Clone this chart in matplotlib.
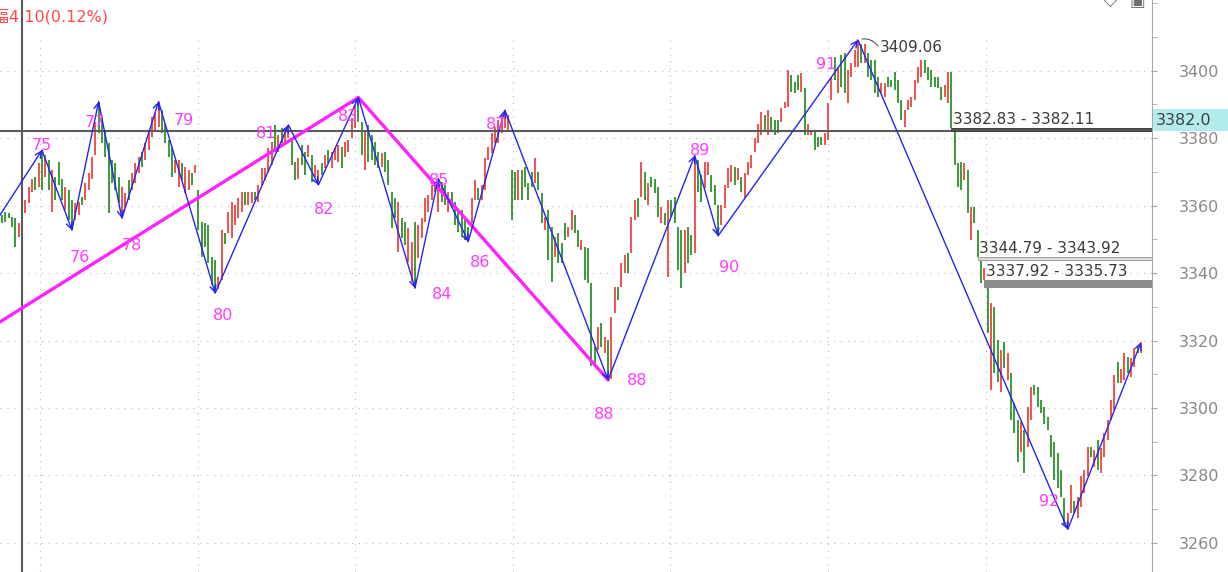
import matplotlib.pyplot as plt
from matplotlib.patches import Rectangle
from matplotlib.ticker import MultipleLocator, FixedLocator
from matplotlib.transforms import blended_transform_factory

plt.rcParams['font.family'] = ['DejaVu Sans', 'Noto Sans CJK TC']

# bar high / low, left to right
hi = [3357.2, 3358.2, 3357.9, 3356.7, 3356.2, 3354.7, 3358.2, 3361.6, 3365.6, 3368.0,
      3368.5, 3372.5, 3376.4, 3374.9, 3373.5, 3370.5, 3368.5, 3373.0, 3368.0, 3365.6,
      3364.6, 3361.6, 3360.6, 3361.1, 3362.6, 3366.6, 3369.5, 3374.5, 3384.8, 3390.8,
      3386.3, 3382.4, 3378.4, 3373.5, 3372.5, 3368.5, 3365.6, 3363.6, 3367.5, 3369.5,
      3372.5, 3374.5, 3375.9, 3378.4, 3382.4, 3386.3, 3387.3, 3390.8, 3388.3, 3384.3,
      3379.4, 3377.4, 3373.5, 3373.5, 3372.5, 3371.5, 3370.5, 3369.5, 3372.0, 3364.6,
      3355.2, 3354.7, 3354.2, 3344.8, 3344.0, 3338.8, 3352.7, 3352.0, 3358.0, 3361.1,
      3360.1, 3362.1, 3364.1, 3364.1, 3364.1, 3364.1, 3364.1, 3366.1, 3371.0, 3371.0,
      3376.9, 3378.9, 3383.8, 3380.9, 3382.9, 3382.9, 3383.9, 3379.4, 3373.0, 3374.0,
      3377.9, 3375.9, 3377.9, 3374.9, 3372.0, 3370.5, 3372.5, 3374.9, 3376.4, 3376.0,
      3376.9, 3377.9, 3377.4, 3378.9, 3379.4, 3385.8, 3389.8, 3392.0, 3384.8, 3381.9,
      3383.8, 3380.9, 3378.9, 3376.0, 3375.5, 3376.0, 3373.5, 3364.1, 3362.1, 3361.1,
      3356.2, 3355.2, 3353.2, 3349.3, 3355.2, 3354.2, 3356.2, 3362.1, 3363.1, 3366.1,
      3367.1, 3368.0, 3367.1, 3366.1, 3364.1, 3364.1, 3361.1, 3358.2, 3358.7, 3355.7,
      3353.7, 3362.1, 3367.6, 3365.1, 3366.1, 3374.0, 3377.4, 3381.4, 3383.4, 3385.3,
      3386.8, 3388.3, 3386.8, 3370.5, 3370.0, 3370.5, 3370.5, 3371.5, 3366.6, 3370.0,
      3374.0, 3370.0, 3363.6, 3356.7, 3358.7, 3353.7, 3350.8, 3351.8, 3348.8, 3354.7,
      3353.7, 3358.7, 3357.2, 3352.7, 3349.8, 3347.8, 3347.3, 3336.9, 3318.2, 3324.1,
      3325.1, 3321.1, 3320.1, 3327.1, 3336.0, 3336.0, 3342.9, 3345.3, 3345.8, 3356.7,
      3361.6, 3362.1, 3373.0, 3370.0, 3366.6, 3368.5, 3368.0, 3365.6, 3359.7, 3357.7,
      3361.6, 3361.6, 3362.6, 3353.7, 3352.7, 3352.7, 3353.7, 3351.3, 3374.8, 3373.5,
      3369.0, 3373.0, 3373.0, 3369.0, 3366.1, 3360.1, 3360.1, 3366.1, 3371.0, 3372.0,
      3371.5, 3371.0, 3368.5, 3369.5, 3373.0, 3375.0, 3379.9, 3384.3, 3387.8, 3386.8,
      3388.3, 3386.3, 3385.3, 3385.3, 3388.8, 3390.8, 3400.1, 3398.7, 3396.7, 3398.7,
      3399.2, 3394.7, 3384.3, 3382.4, 3381.9, 3380.4, 3380.4, 3381.4, 3390.3, 3398.2,
      3404.1, 3401.1, 3404.6, 3405.1, 3400.2, 3402.1, 3406.1, 3409.06, 3408.0, 3408.0,
      3405.1, 3403.1, 3403.1, 3398.2, 3396.2, 3396.2, 3398.2, 3397.2, 3399.7, 3397.2,
      3391.3, 3388.3, 3391.3, 3392.2, 3397.2, 3401.1, 3403.1, 3403.1, 3401.1, 3400.2,
      3398.2, 3398.2, 3395.2, 3395.7, 3399.7, 3399.7, 3382.11, 3372.5, 3373.0, 3372.5,
      3370.5, 3359.7, 3359.7, 3352.7, 3343.92, 3341.5, 3335.73, 3331.0, 3330.0, 3320.1,
      3317.2, 3319.7, 3316.2, 3310.3, 3301.4, 3296.4, 3295.9, 3293.5, 3300.4, 3306.3,
      3306.8, 3306.3, 3302.4, 3300.4, 3297.4, 3292.0, 3290.0, 3286.6, 3281.6, 3273.2,
      3268.8, 3277.2, 3272.3, 3273.7, 3279.7, 3281.6, 3288.5, 3288.5, 3287.5, 3290.5,
      3288.0, 3292.5, 3296.4, 3302.4, 3309.8, 3313.7, 3311.7, 3316.2, 3315.2, 3314.7,
      3317.7, 3318.2, 3319.5]
lo = [3354.7, 3355.2, 3356.2, 3353.7, 3347.8, 3350.7, 3353.2, 3357.7, 3360.6, 3364.1,
      3364.6, 3365.6, 3364.6, 3368.5, 3364.6, 3358.2, 3361.6, 3366.1, 3361.6, 3358.7,
      3355.7, 3352.7, 3355.7, 3357.2, 3360.1, 3361.6, 3364.6, 3368.0, 3375.0, 3381.4,
      3378.4, 3374.5, 3357.7, 3366.6, 3364.6, 3360.6, 3356.2, 3359.2, 3361.6, 3364.6,
      3366.6, 3369.5, 3371.5, 3373.5, 3376.4, 3380.4, 3382.4, 3383.4, 3381.4, 3378.4,
      3374.5, 3368.5, 3369.5, 3365.6, 3367.5, 3363.6, 3364.5, 3366.0, 3369.5, 3352.7,
      3344.8, 3347.8, 3342.9, 3336.5, 3334.0, 3335.3, 3337.9, 3348.6, 3352.0, 3350.3,
      3354.2, 3356.2, 3358.2, 3360.1, 3360.1, 3360.6, 3361.6, 3361.1, 3366.1, 3367.6,
      3370.0, 3372.0, 3375.9, 3375.9, 3378.4, 3378.9, 3379.9, 3372.0, 3367.6, 3368.0,
      3372.0, 3369.0, 3374.5, 3367.1, 3368.5, 3366.1, 3369.0, 3371.0, 3372.5, 3371.0,
      3373.5, 3373.0, 3371.0, 3374.5, 3375.9, 3379.9, 3382.9, 3384.8, 3375.0, 3370.5,
      3373.0, 3373.5, 3372.0, 3371.0, 3371.5, 3370.0, 3366.1, 3353.2, 3356.2, 3346.3,
      3350.3, 3348.3, 3343.4, 3337.4, 3335.5, 3344.3, 3350.3, 3355.2, 3358.2, 3361.6,
      3364.1, 3358.2, 3361.1, 3360.1, 3358.2, 3359.2, 3354.2, 3352.2, 3350.8, 3349.8,
      3349.3, 3354.7, 3361.6, 3361.6, 3361.6, 3364.6, 3373.5, 3375.5, 3378.4, 3378.4,
      3381.4, 3382.9, 3381.9, 3355.7, 3361.6, 3361.6, 3361.6, 3365.6, 3361.6, 3365.6,
      3366.6, 3364.6, 3354.7, 3352.7, 3343.8, 3337.4, 3344.8, 3342.9, 3342.9, 3349.8,
      3350.8, 3352.7, 3351.8, 3347.8, 3346.8, 3337.9, 3336.9, 3312.3, 3312.3, 3317.2,
      3318.2, 3316.2, 3308.3, 3308.5, 3328.1, 3332.0, 3336.0, 3339.9, 3339.9, 3345.8,
      3355.7, 3356.7, 3362.6, 3361.6, 3360.1, 3365.6, 3363.6, 3356.7, 3354.7, 3354.2,
      3338.9, 3356.7, 3354.7, 3340.9, 3335.5, 3339.9, 3343.0, 3345.3, 3346.0, 3364.1,
      3361.1, 3365.1, 3369.0, 3364.1, 3360.1, 3351.0, 3354.2, 3359.2, 3365.1, 3367.1,
      3366.1, 3367.5, 3364.1, 3362.1, 3369.0, 3371.0, 3375.9, 3378.4, 3380.9, 3381.9,
      3380.9, 3381.9, 3380.9, 3381.4, 3384.8, 3388.8, 3389.3, 3393.7, 3393.2, 3394.2,
      3393.7, 3380.9, 3380.9, 3380.9, 3376.4, 3377.4, 3377.9, 3377.9, 3379.4, 3391.3,
      3397.2, 3393.2, 3395.2, 3393.2, 3390.3, 3398.2, 3401.1, 3401.1, 3402.1, 3402.1,
      3398.2, 3397.2, 3393.2, 3392.3, 3393.2, 3392.3, 3395.2, 3395.2, 3394.2, 3390.3,
      3385.3, 3383.4, 3388.3, 3389.3, 3391.3, 3396.2, 3398.2, 3399.2, 3397.2, 3395.2,
      3395.2, 3394.7, 3391.3, 3392.2, 3390.3, 3382.83, 3372.0, 3365.6, 3364.6, 3367.5,
      3357.7, 3349.8, 3354.7, 3344.79, 3337.0, 3337.92, 3322.1, 3305.3, 3310.3, 3307.8,
      3304.8, 3311.8, 3308.3, 3296.4, 3292.5, 3284.1, 3287.0, 3280.6, 3288.5, 3296.4,
      3303.8, 3300.4, 3298.4, 3295.4, 3293.5, 3285.5, 3278.7, 3276.2, 3273.7, 3265.3,
      3264.0, 3268.8, 3268.8, 3267.3, 3270.8, 3274.7, 3279.7, 3285.6, 3282.6, 3281.6,
      3280.6, 3285.6, 3290.5, 3296.4, 3299.4, 3307.3, 3307.3, 3308.3, 3310.3, 3309.3,
      3312.2, 3316.2, 3316.2]
# r = up bar, g = down bar
col = ("gggggrrrrr" "grgrgrgggr" "ggrrgrrrrg" "ggggggrrgr" "rrgrrrrrgg"
       "ggrrgrrgrg" "gggggrrgrr" "rrrgrrgrrr" "rrgrgrrggr" "ggrgrrgrgr"
       "rrgrrrrggr" "ggggrggggr" "ggrrgrrrrr" "rrggrggggg" "grrgrrrrrr"
       "rrrggrgggg" "rggrggrggg" "rrggrggggr" "grgrrgrrgr" "rgrgrgggrg"
       "rggggrggrg" "grrgggrrrr" "grgrrrrrrg" "rgggrrrggg" "rgrrgggrrr"
       "grggrrrrgr" "ggggrrgggg" "grrrrrrggg" "gggrrggggr" "grgggrgrgg"
       "rgrgggrgrr" "gggggggggg" "rrgrrrrgrg" "rrrrrgrrgr" "rgr")

# zigzag turning points (bar index, price); the first one sits just off the left edge
zz_idx = [-4, 12, 21, 29, 36, 47, 64, 86, 95, 107, 124, 131, 140, 151, 182, 208, 215, 257, 320, 342]
zz_val = [3352.0, 3376.4, 3352.7, 3390.8, 3356.2, 3390.8, 3334.0, 3383.9, 3366.1, 3392.0,
          3335.5, 3368.0, 3349.3, 3388.3, 3308.3, 3374.8, 3351.0, 3409.06, 3264.0, 3319.5]
zz_lab = ['75', '76', '77', '78', '79', '80', '81', '82', '83',
          '84', '85', '86', '87', '88', '89', '90', '91', '92']
lab_off = [(0, 5), (8, -27), (-4, -21), (10, -27), (25, -19), (8, -22), (-22, -9), (6, -25),
           (-10, -19), (27, -6), (1, -2), (12, -21), (-9, -14), (29, -1), (5, 5), (11, -32),
           (-32, -25), (-19, 28)]

# magenta trend line
tr_idx = [-10, 107, 182]
tr_val = [3319.7, 3392.0, 3308.3]

# open gaps: starting bar, top, bottom
gap_idx = [285, 293, 295]
gap_top = [3382.83, 3344.79, 3337.92]
gap_bot = [3382.11, 3343.92, 3335.73]

cross_idx = 6
cross_val = 3382.0
head_txt = '漲幅4.10(0.12%)'
grid_idx = [11.4, 58.9, 106, 153.5, 200.6, 248, 295.5]
price_ticks = [3260, 3280, 3300, 3320, 3340, 3360, 3380, 3400]

assert len(hi) == len(lo) == len(col)

W, H = 1228, 572
fig = plt.figure(figsize=(W / 100, H / 100), dpi=100)
ax = fig.add_axes([0, 0, 1152 / W, 1])
x0, x1 = -0.6, 345.3
y0, y1 = 3251.4, 3420.9
ax.set_xlim(x0, x1)
ax.set_ylim(y0, y1)

# grid
ax.vlines(grid_idx, y0, 3409.6, colors='#c4c4c4', linestyles=(0, (1.2, 5)), lw=0.8, zorder=0)
for v in price_ticks:
    ax.axhline(v, color='#c4c4c4', ls=(0, (1.2, 5)), lw=0.8, zorder=0)

# bars
xs = list(range(len(hi)))
colors = ['#f0524c' if c == 'r' else '#3a9a3a' for c in col]
ax.vlines(xs, lo, hi, colors=colors, lw=1.4, zorder=2)

# crosshair
ax.axhline(cross_val, color='#5a5a5a', lw=1.5, zorder=2.5)
ax.axvline(cross_idx, color='#5a5a5a', lw=1.5, zorder=2.5)

# gap zones
zone_face = ['#505050', '#dcdcdc', '#8c8c8c']
zone_edge = ['#404040', '#a0a0a0', '#8c8c8c']
for k in range(len(gap_idx)):
    ax.add_patch(Rectangle((gap_idx[k], gap_bot[k]), x1 - gap_idx[k], gap_top[k] - gap_bot[k],
                           facecolor=zone_face[k], edgecolor=zone_edge[k], lw=0.7, zorder=2.6))
    ax.annotate(f'{gap_top[k]:.2f} - {gap_bot[k]:.2f}', xy=(gap_idx[k], gap_top[k]),
                xytext=(1.5, 1), textcoords='offset pixels', ha='left', va='bottom',
                color='#3a3a3a', fontsize=11, zorder=6)

# trend line
ax.plot(tr_idx, tr_val, color='#ff22ff', lw=2.4, zorder=3, solid_capstyle='round')

# zigzag with arrow heads
for k in range(1, len(zz_idx)):
    ax.annotate('', xy=(zz_idx[k], zz_val[k]), xytext=(zz_idx[k - 1], zz_val[k - 1]),
                arrowprops=dict(arrowstyle='->', color='#2424f0', lw=1.0,
                                shrinkA=0, shrinkB=0, mutation_scale=11), zorder=4)

for k, t in enumerate(zz_lab):
    ax.annotate(t, xy=(zz_idx[k + 1], zz_val[k + 1]), xytext=lab_off[k],
                textcoords='offset pixels', ha='center', va='center',
                color='#ff3cff', fontsize=11.5, zorder=5)
# second 88 label under the low
ax.annotate('88', xy=(zz_idx[14], zz_val[14]), xytext=(-4, -35), textcoords='offset pixels',
            ha='center', va='center', color='#ff3cff', fontsize=11.5, zorder=5)

# peak price tag with its small squiggle
ax.annotate(f'{zz_val[17]:.2f}', xy=(zz_idx[17], zz_val[17]), xytext=(22, -8),
            textcoords='offset pixels', ha='left', va='center', color='#3a3a3a', fontsize=11,
            zorder=6)
ax.annotate('', xy=(zz_idx[17], zz_val[17]), xytext=(20, -6), textcoords='offset pixels',
            arrowprops=dict(arrowstyle='-', connectionstyle='arc3,rad=0.35', color='#555555',
                            lw=0.8, shrinkA=0, shrinkB=3), zorder=6)

# header text (partly hidden behind the crosshair)
ax.text(108 / 1152, 1 - 17 / H, head_txt, transform=ax.transAxes, ha='right', va='center',
        color='#ff4a4a', fontsize=11.5, zorder=1)

# right price axis
for s in ['top', 'left', 'bottom']:
    ax.spines[s].set_visible(False)
ax.spines['right'].set_color('#a8a8a8')
ax.set_xticks([])
ax.yaxis.tick_right()
ax.yaxis.set_major_locator(FixedLocator(price_ticks))
ax.yaxis.set_minor_locator(MultipleLocator(10))
ax.tick_params(axis='y', which='both', length=3.6, color='#a8a8a8', direction='out')
ax.tick_params(axis='y', which='major', labelsize=11.5, labelcolor='#888888', pad=16)

# current price box
tr = blended_transform_factory(ax.transAxes, ax.transData)
ax.add_patch(Rectangle((1.0008, cross_val), (W - 1152) / 1152, 22 / 3.375, transform=tr,
                       facecolor='#b2ecec', edgecolor='none', clip_on=False, zorder=6))
ax.text(1.003, cross_val + 11 / 3.375, f'{cross_val:.1f}', transform=tr, ha='left', va='center',
        color='#404040', fontsize=11.5, zorder=7, clip_on=False)

# little toolbar icons at the top right (cut by the top edge, as in the screen grab)
fig.text(1110 / W, 1 - 1 / H, '◇', ha='center', va='center', color='#707070', fontsize=12)
fig.text(1137 / W, 1 - 1 / H, '▣', ha='center', va='center', color='#707070', fontsize=12)

fig.savefig('out.png', dpi=100)
